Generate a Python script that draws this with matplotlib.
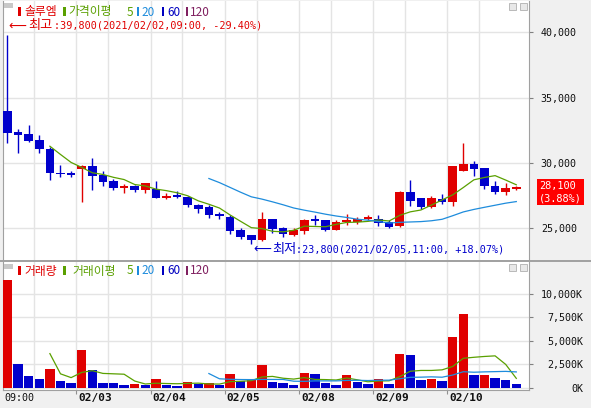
import matplotlib

matplotlib.use('Agg')

import matplotlib.pyplot as plt
from matplotlib.lines import Line2D
from matplotlib.patches import Rectangle
import numpy as np
import pandas as pd

plt.rcParams['font.family'] = ['Noto Sans CJK KR', 'DejaVu Sans']

W, H = 591, 408

# hourly candles, 7 per trading day
days = ['2021/02/02', '2021/02/03', '2021/02/04', '2021/02/05',
        '2021/02/08', '2021/02/09', '2021/02/10']
hours = ['09:00', '10:00', '11:00', '12:00', '13:00', '14:00', '15:00']

opens = [34000, 32350, 32200, 31750, 31050, 29250, 29250,
         29500, 29750, 29050, 28600, 28050, 28250, 27900,
         28000, 27350, 27500, 27400, 26750, 26600, 26050,
         25850, 24850, 24450, 24100, 25700, 25000, 24500,
         24800, 25650, 25600, 24900, 25450, 25450, 25700,
         25700, 25450, 25150, 27750, 27300, 26600, 27250,
         27050, 29400, 29900, 29600, 28250, 27750, 28050]
highs = [39800, 32600, 32900, 32150, 31250, 29850, 29350,
         29850, 30350, 29350, 28750, 28400, 28300, 28500,
         28600, 27700, 27850, 27450, 26850, 26750, 26250,
         26000, 25000, 24450, 26250, 25700, 25100, 25000,
         25700, 26000, 25650, 25650, 26100, 25850, 26000,
         26000, 25650, 27850, 28700, 27300, 27450, 27600,
         29800, 31550, 30150, 29600, 28600, 28500, 28250]
lows = [31500, 30750, 31600, 30750, 28700, 28900, 28900,
        27050, 27900, 28250, 27950, 27700, 27800, 27700,
        27350, 27250, 27300, 26600, 26200, 25800, 25750,
        24550, 24200, 23800, 24000, 24650, 24350, 24400,
        24550, 25250, 24800, 24850, 25250, 25300, 25600,
        25150, 25000, 25100, 26700, 26500, 26550, 26850,
        26700, 29400, 29000, 28000, 27600, 27550, 27900]
closes = [32300, 32150, 31700, 31050, 29200, 29150, 29100,
          29800, 29000, 28550, 28050, 28250, 27900, 28450,
          27350, 27450, 27450, 26750, 26500, 26050, 26000,
          24800, 24300, 24100, 25700, 24950, 24600, 24900,
          25650, 25600, 24850, 25500, 25650, 25750, 25900,
          25400, 25100, 27800, 27100, 26600, 27300, 27050,
          29750, 29900, 29550, 28200, 27750, 28050, 28100]
# volume in thousand shares
volumes = [11500, 2550, 1280, 960, 2000, 745, 532,
           4050, 1900, 532, 530, 320, 425, 320,
           957, 355, 213, 603, 460, 500, 320,
           1500, 780, 800, 2450, 640, 530, 320,
           1600, 1490, 530, 320, 1380, 640, 425,
           960, 425, 3600, 3500, 850, 960, 745,
           5400, 7850, 1380, 1400, 1065, 850, 425]
volume_up = 'rbbbrbbrbbbbrbrbbrbrbrbrrbbbrbbbrbbrbrbbrbrrbrbbb'

price_ticks = [25000, 30000, 35000, 40000]
volume_ticks = [0, 2500, 5000, 7500, 10000]

RED = '#e00000'
BLUE = '#0000cc'
GREEN = '#5aa000'
SKY = '#1e8cdc'
NAVY = '#0000c0'
PURPLE = '#802060'
GRID = '#e4e4e4'
EDGE = '#a0a0a0'
MONO = 'DejaVu Sans Mono'


def box(x0, y0, x1, y1):
    return [x0 / W, 1 - y1 / H, (x1 - x0) / W, (y1 - y0) / H]


def fig_rect(x0, y0, x1, y1, fc, ec='none'):
    fig.add_artist(Rectangle((x0 / W, 1 - y1 / H), (x1 - x0) / W, (y1 - y0) / H,
                             transform=fig.transFigure, facecolor=fc, edgecolor=ec, lw=0.6))


def fig_text(x, y, s, color, **kw):
    fig.text(x / W, 1 - y / H, s, color=color, ha='left', va='center', fontsize=8.5, **kw)


fig = plt.figure(figsize=(W / 100, H / 100), dpi=100, facecolor='#f0f0f0')
ax = fig.add_axes(box(3, 1, 529, 260))
axv = fig.add_axes(box(3, 262, 529, 390))

n = len(closes)
x = np.arange(n)
xlim = ((3 - 7.5) / 10.6, (529 - 7.5) / 10.6)
day_starts = list(range(7, n, 7))
noons = list(range(3, n, 7))

for a in (ax, axv):
    a.set_xlim(*xlim)
    a.set_facecolor('white')
    for b in day_starts + noons:
        a.axvline(b - 0.5, color=GRID, lw=1.0, zorder=0)
    for sp in a.spines.values():
        sp.set_color(EDGE)
        sp.set_linewidth(0.8)
    a.spines['top'].set_visible(False)
    a.set_axisbelow(True)
ax.spines['bottom'].set_visible(False)

# price candles
o = np.array(opens)
c = np.array(closes)
cc = np.where(c >= o, RED, BLUE)
ax.vlines(x, lows, highs, colors=cc, lw=1.0, zorder=3)
diff = np.abs(c - o)
body_h = np.maximum(diff, 110)
body_lo = np.minimum(o, c) - (body_h - diff) / 2
ax.bar(x, body_h, bottom=body_lo, width=0.82, color=cc, linewidth=0, zorder=3)

s = pd.Series(closes)
ax.plot(x, s.rolling(5).mean(), color=GREEN, lw=0.9, zorder=4)
ax.plot(x, s.rolling(20).mean(), color=SKY, lw=0.9, zorder=4)

ax.set_ylim(22575, 42391)
ax.set_yticks(price_ticks)
ax.grid(axis='y', color=GRID, lw=1.0)
ax.yaxis.tick_right()
ax.set_yticklabels([f'{v:,}' for v in price_ticks], family=MONO)
ax.tick_params(axis='y', length=3, width=0.8, color='#808080', pad=5.5,
               labelsize=7.2, labelcolor='#101010')
ax.tick_params(axis='x', bottom=False, labelbottom=False)

# high / low markers
hi_i = int(np.argmax(highs))
lo_i = int(np.argmin(lows))
last = closes[-1]
for i, val, word, col, dy, dx in [(hi_i, highs[hi_i], '최고', RED, 9, (1, 21, 46)),
                                  (lo_i, lows[lo_i], '최저', BLUE, -5.5, (2, 21, 45))]:
    rest = f':{val:,}({days[i // 7]},{hours[i % 7]}, {(last / val - 1) * 100:+.2f}%)'
    kw = dict(xy=(i, val), textcoords='offset pixels', ha='left', va='center',
              color=col, annotation_clip=False, zorder=6)
    ax.annotate('⟵', xytext=(dx[0], dy), family='DejaVu Sans', fontsize=9, **kw)
    ax.annotate(word, xytext=(dx[1], dy), fontsize=9.5, **kw)
    ax.annotate(rest, xytext=(dx[2], dy), family=MONO, fontsize=7.3, **kw)

# last price box
prev_close = closes[7 * (len(days) - 1) - 1]
chg = (last / prev_close - 1) * 100
ax.annotate(f'{last:,}\n({chg:.2f}%)', xy=(1, last), xycoords=('axes fraction', 'data'),
            xytext=(10, 6.5), textcoords='offset pixels', ha='left', va='top',
            color='white', family=MONO, fontsize=7.4, linespacing=1.25,
            bbox=dict(boxstyle='square,pad=0.18', fc='#ff0000', ec='none'),
            annotation_clip=False)

# volume panel
vcol = [RED if f == 'r' else BLUE for f in volume_up]
axv.bar(x, volumes, width=0.9, color=vcol, linewidth=0, zorder=3)
vs = pd.Series(volumes)
axv.plot(x, vs.rolling(5).mean(), color=GREEN, lw=0.9, zorder=4)
axv.plot(x, vs.rolling(20).mean(), color=SKY, lw=0.9, zorder=4)
axv.set_ylim(-213, 13404)
axv.set_yticks(volume_ticks)
axv.grid(axis='y', color=GRID, lw=1.0)
axv.yaxis.tick_right()
axv.set_yticklabels([f'{v:,}K' for v in volume_ticks], family=MONO, ha='right')
axv.tick_params(axis='y', length=3, width=0.8, color='#808080', pad=36,
                labelsize=7.2, labelcolor='#101010')
axv.set_xticks([b - 0.5 for b in day_starts])
axv.tick_params(axis='x', length=3, width=0.8, color='#909090', labelbottom=False)

axv.annotate(hours[0], xy=(0, 0), xycoords='axes fraction', xytext=(1, -8),
             textcoords='offset pixels', ha='left', va='center', family=MONO,
             fontsize=7.2, color='#101010', annotation_clip=False)
for d, b in zip(days[1:], day_starts):
    axv.annotate(d[5:], xy=(b - 0.5, 0), xycoords=('data', 'axes fraction'), xytext=(2, -8),
                 textcoords='offset pixels', ha='left', va='center', family=MONO,
                 fontsize=8, fontweight='bold', color='#101010', annotation_clip=False)

# panel separator
fig.add_artist(Line2D([0, 1], [1 - 261 / H] * 2, color=EDGE, lw=1.4, transform=fig.transFigure))

# legends
for y0, yt, name, avg, avg_x in [(3, 12, '솔루엠', '가격이평', 68), (264, 271, '거래량', '거래이평', 72)]:
    fig_rect(4, y0, 13, y0 + 5, '#c8c8c8')
    fig_rect(18, yt - 5, 21, yt + 4, RED)
    fig_text(24, yt, name, RED)
    fig_rect(63, yt - 5, 66, yt + 4, GREEN)
    fig_text(avg_x, yt, avg, GREEN)
    fig_text(127, yt, '5', GREEN)
    fig_rect(137, yt - 5, 139, yt + 4, SKY)
    fig_text(141, yt, '20', SKY)
    fig_rect(162, yt - 5, 164, yt + 4, NAVY)
    fig_text(167, yt, '60', NAVY)
    fig_rect(186, yt - 5, 188, yt + 4, PURPLE)
    fig_text(190, yt, '120', PURPLE)
    # window buttons
    fig_rect(509, y0, 516, y0 + 7, '#e8e8e8', '#b0b0b0')
    fig_rect(520, y0, 527, y0 + 7, '#e8e8e8', '#b0b0b0')

fig.savefig('out.png', dpi=100, facecolor=fig.get_facecolor())
plt.close(fig)
